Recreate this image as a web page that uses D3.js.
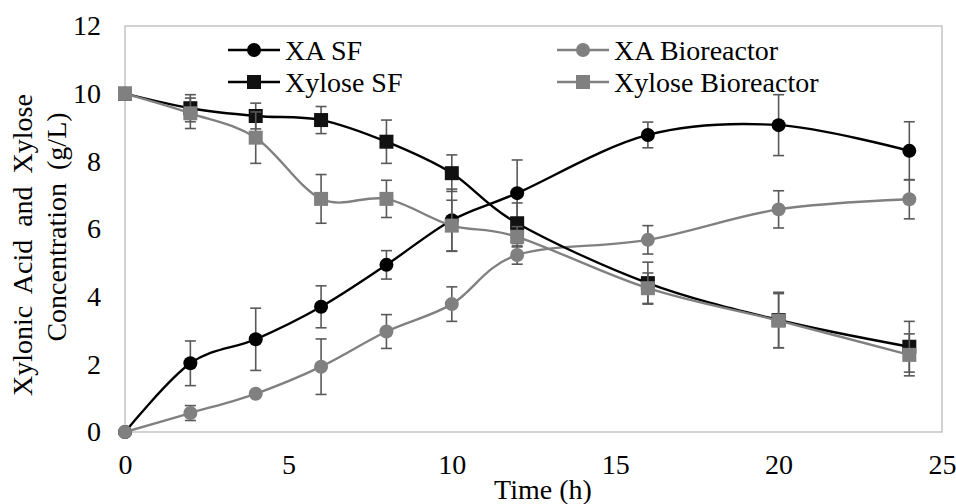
<!DOCTYPE html>
<html>
<head>
<meta charset="utf-8">
<script src="https://cdn.jsdelivr.net/npm/d3@7"></script>
<style>
  body { margin: 0; background: #fff; }
  text { font-family: "Liberation Serif", "Times New Roman", serif; fill: #000; }
</style>
</head>
<body>
<div id="container"></div>
<script>
/* CONSTANTS AND GLOBALS */
const width = 956,
  height = 504,
  margin = {top: 26, bottom: 72, left: 125, right: 14};

// sampling times (h)
const times = [0, 2, 4, 6, 8, 10, 12, 16, 20, 24];

// series values (g/L) and their error bars
const xaSF = [0, 2.03, 2.74, 3.70, 4.94, 6.26, 7.06, 8.78, 9.07, 8.31];
const xaSFErr = [0, 0.66, 0.92, 0.62, 0.42, 0.92, 0.98, 0.38, 0.90, 0.86];

const xaBio = [0, 0.56, 1.13, 1.93, 2.97, 3.78, 5.23, 5.68, 6.58, 6.88];
const xaBioErr = [0, 0.22, 0.05, 0.82, 0.50, 0.51, 0.27, 0.42, 0.55, 0.58];

const xylSF = [10, 9.57, 9.34, 9.22, 8.58, 7.65, 6.17, 4.40, 3.31, 2.52];
const xylSFErr = [0, 0.40, 0.38, 0.40, 0.64, 0.54, 0.60, 0.62, 0.82, 0.75];

const xylBio = [10, 9.42, 8.70, 6.89, 6.89, 6.10, 5.77, 4.25, 3.29, 2.28];
const xylBioErr = [0, 0.45, 0.76, 0.72, 0.55, 0.75, 0.30, 0.45, 0.80, 0.62];

const seriesNames = ["XA SF", "XA Bioreactor", "Xylose SF", "Xylose Bioreactor"];
const seriesColors = ["#000000", "#808080", "#000000", "#808080"];
const markerFill = ["#000000", "#808080", "#111111", "#808080"];
const seriesShapes = ["circle", "circle", "square", "square"];
const seriesValues = [xaSF, xaBio, xylSF, xylBio];
const seriesErrors = [xaSFErr, xaBioErr, xylSFErr, xylBioErr];

const xTicks = [0, 5, 10, 15, 20, 25];
const yTicks = [0, 2, 4, 6, 8, 10, 12];

const series = seriesNames.map((name, i) => ({
  name: name,
  color: seriesColors[i],
  fill: markerFill[i],
  shape: seriesShapes[i],
  points: times.map((t, j) => ({t: t, v: seriesValues[i][j], e: seriesErrors[i][j]}))
}));

/* SCALES */
const xScale = d3.scaleLinear()
  .domain([0, 25])
  .range([margin.left, width - margin.right]);

const yScale = d3.scaleLinear()
  .domain([0, 12])
  .range([height - margin.bottom, margin.top]);

/* SVG */
const svg = d3.select("#container")
  .append("svg")
  .attr("width", width)
  .attr("height", height)
  .style("background", "#fff");

// plot area frame
svg.append("rect")
  .attr("x", xScale(0))
  .attr("y", yScale(12))
  .attr("width", xScale(25) - xScale(0))
  .attr("height", yScale(0) - yScale(12))
  .attr("fill", "none")
  .attr("stroke", "#c3c3c3")
  .attr("stroke-width", 1.5);

// axes (labels only, no tick marks)
const xAxis = d3.axisBottom(xScale).tickValues(xTicks).tickSize(0).tickPadding(22);
const yAxis = d3.axisLeft(yScale).tickValues(yTicks).tickSize(0).tickPadding(24);

const xAxisGroup = svg.append("g")
  .attr("transform", `translate(0,${yScale(0)})`)
  .call(xAxis);

const yAxisGroup = svg.append("g")
  .attr("transform", `translate(${xScale(0)},0)`)
  .call(yAxis);

[xAxisGroup, yAxisGroup].forEach(g => {
  g.select(".domain").remove();
  g.selectAll("text")
    .style("font-family", "'Liberation Serif', 'Times New Roman', serif")
    .style("font-size", "28px")
    .attr("fill", "#000");
});

// axis titles
svg.append("text")
  .attr("x", 543)
  .attr("y", 499)
  .attr("text-anchor", "middle")
  .style("font-size", "28px")
  .text("Time (h)");

svg.append("text")
  .attr("transform", "translate(32,245) rotate(-90)")
  .attr("text-anchor", "middle")
  .style("font-size", "28px")
  .style("word-spacing", "6px")
  .text("Xylonic Acid and Xylose");

svg.append("text")
  .attr("transform", "translate(66,227) rotate(-90)")
  .attr("text-anchor", "middle")
  .style("font-size", "28px")
  .style("word-spacing", "6px")
  .text("Concentration (g/L)");

/* DRAW SERIES */
const line = d3.line()
  .x(d => xScale(d.t))
  .y(d => yScale(d.v))
  .curve(d3.curveCatmullRom.alpha(0));

const capHalf = 5.5;
const markerSize = 14;

function drawMarker(g, shape, fill) {
  if (shape === "circle") {
    g.append("circle").attr("r", markerSize / 2).attr("fill", fill);
  } else {
    g.append("rect")
      .attr("x", -markerSize / 2).attr("y", -markerSize / 2)
      .attr("width", markerSize).attr("height", markerSize)
      .attr("fill", fill);
  }
}

series.forEach(s => {
  const g = svg.append("g");

  // error bars
  const eb = g.selectAll(".err")
    .data(s.points.filter(d => d.e > 0))
    .join("g")
    .attr("stroke", "#595959")
    .attr("stroke-width", 1.6);

  eb.append("line")
    .attr("x1", d => xScale(d.t)).attr("x2", d => xScale(d.t))
    .attr("y1", d => yScale(d.v + d.e)).attr("y2", d => yScale(d.v - d.e));
  eb.append("line")
    .attr("x1", d => xScale(d.t) - capHalf).attr("x2", d => xScale(d.t) + capHalf)
    .attr("y1", d => yScale(d.v + d.e)).attr("y2", d => yScale(d.v + d.e));
  eb.append("line")
    .attr("x1", d => xScale(d.t) - capHalf).attr("x2", d => xScale(d.t) + capHalf)
    .attr("y1", d => yScale(d.v - d.e)).attr("y2", d => yScale(d.v - d.e));

  // smoothed line
  g.append("path")
    .datum(s.points)
    .attr("d", line)
    .attr("fill", "none")
    .attr("stroke", s.color)
    .attr("stroke-width", 2.4);

  // markers
  g.selectAll(".mk")
    .data(s.points)
    .join("g")
    .attr("transform", d => `translate(${xScale(d.t)},${yScale(d.v)})`)
    .each(function() { drawMarker(d3.select(this), s.shape, s.fill); });
});

/* LEGEND */
const legendPos = [
  {x: 228, y: 50}, {x: 557, y: 50},
  {x: 228, y: 82}, {x: 557, y: 82}
];

const legend = svg.append("g");
series.forEach((s, i) => {
  const p = legendPos[i];
  const lg = legend.append("g").attr("transform", `translate(${p.x},${p.y})`);
  lg.append("line")
    .attr("x1", 0).attr("x2", 52)
    .attr("y1", 0).attr("y2", 0)
    .attr("stroke", s.color)
    .attr("stroke-width", 2.4);
  const m = lg.append("g").attr("transform", "translate(26,0)");
  drawMarker(m, s.shape, s.fill);
  lg.append("text")
    .attr("x", 57)
    .attr("y", 10)
    .style("font-size", "28px")
    .text(s.name);
});
</script>
</body>
</html>
